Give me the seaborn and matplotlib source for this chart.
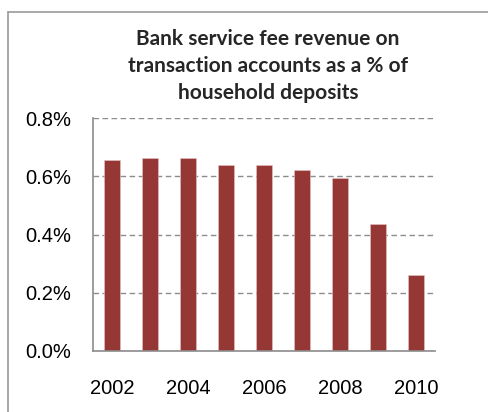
import matplotlib
matplotlib.use("Agg")
import matplotlib.pyplot as plt
import matplotlib.lines as mlines
import seaborn as sns
import pandas as pd

years = ["2002", "2003", "2004", "2005", "2006", "2007", "2008", "2009", "2010"]
fee_pct = [0.656, 0.663, 0.663, 0.638, 0.638, 0.623, 0.595, 0.437, 0.260]
y_ticks = [0.0, 0.2, 0.4, 0.6, 0.8]
y_tick_labels = ["0.0%", "0.2%", "0.4%", "0.6%", "0.8%"]
x_label_years = ["2002", "2004", "2006", "2008", "2010"]
title = "Bank service fee revenue on\ntransaction accounts as a % of\nhousehold deposits"

sns.set_style("white")
plt.rcParams["font.family"] = ["Liberation Sans", "DejaVu Sans"]

W, H = 488, 412
fig = plt.figure(figsize=(W / 100, H / 100), dpi=100)
ax = fig.add_axes([93 / W, 61 / H, (435 - 93) / W, 233 / H])

df = pd.DataFrame({"year": years, "fee": fee_pct})
sns.barplot(data=df, x="year", y="fee", order=years, color="#953735",
            saturation=1, width=0.42, ax=ax, edgecolor="#e8c4c4", linewidth=0.4)

ax.set_xlim(-0.5, len(years) - 0.5)
ax.set_ylim(0, 0.8)
ax.set_xlabel("")
ax.set_ylabel("")

gray = "#8c8c8c"
tick_font = dict(fontsize=14.5, color="#000000", family=["Liberation Sans", "DejaVu Sans"])
ax.set_yticks(y_ticks)
ax.set_yticklabels(y_tick_labels, **tick_font)
ax.yaxis.grid(True, linestyle=(0, (4, 2.5)), color=gray, linewidth=1.0)
ax.set_axisbelow(True)
ax.tick_params(axis="y", length=5, width=1, color=gray, pad=11)

label_pos = [years.index(y) for y in x_label_years]
ax.set_xticks(label_pos)
ax.set_xticklabels(x_label_years, **tick_font)
ax.tick_params(axis="x", which="major", length=0, pad=20)
ax.set_xticks([p - 0.5 for p in label_pos], minor=True)
ax.tick_params(axis="x", which="minor", length=4, width=1, color=gray)

for side in ["top", "right"]:
    ax.spines[side].set_visible(False)
for side in ["left", "bottom"]:
    ax.spines[side].set_color(gray)
    ax.spines[side].set_linewidth(1.2)

fig.text(268 / W, 1 - 66 / H, title, ha="center", va="center",
         fontsize=15, fontweight="bold", family=["Lato", "DejaVu Sans"],
         linespacing=1.45)

# chart frame edges
fig.add_artist(mlines.Line2D([7.5 / W, 1.0], [1 - 11.5 / H, 1 - 11.5 / H],
                             color="#9a9a9a", linewidth=1.2, transform=fig.transFigure))
fig.add_artist(mlines.Line2D([7.5 / W, 7.5 / W], [0, 1 - 11.5 / H],
                             color="#9a9a9a", linewidth=1.2, transform=fig.transFigure))

fig.savefig("out.png", dpi=100)
